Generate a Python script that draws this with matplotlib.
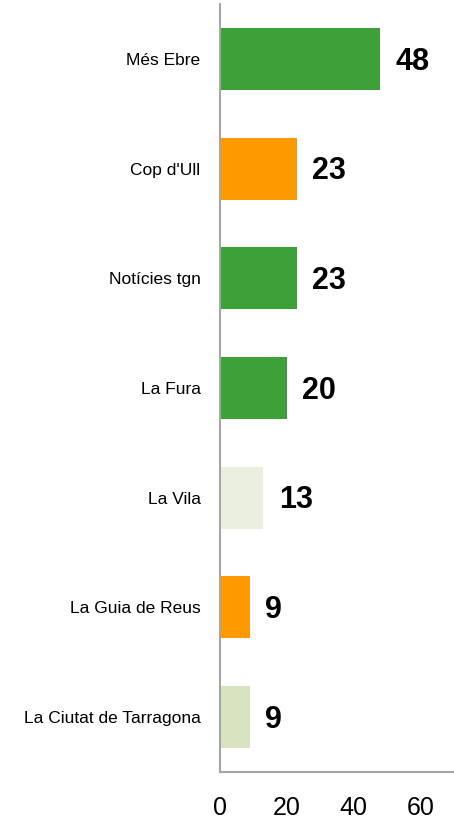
import matplotlib
matplotlib.use("Agg")
import matplotlib.pyplot as plt

# data, top to bottom
labels = ["Més Ebre", "Cop d'Ull", "Notícies tgn", "La Fura", "La Vila",
          "La Guia de Reus", "La Ciutat de Tarragona"]
values = [48, 23, 23, 20, 13, 9, 9]
colors = ["#3da038", "#ff9900", "#3da038", "#3da038", "#ebefe0",
          "#ff9900", "#d8e4bf"]
xticks = [0, 20, 40, 60]

plt.rcParams['font.family'] = ['Liberation Sans', 'DejaVu Sans']

fig = plt.figure(figsize=(4.54, 8.19), dpi=100)
ax = fig.add_axes([220 / 454, 47 / 819, 1 - 220 / 454, 768 / 819])

pos = list(range(len(labels)))
ax.barh(pos, values, height=0.565, color=colors, edgecolor="none")
for p, v in zip(pos, values):
    ax.annotate(str(v), (v, p), xytext=(11, -2), textcoords="offset points",
                va="center", ha="left", fontsize=22, fontweight="bold")

ax.set_ylim(6.5, -0.5)
ax.set_xlim(0, 70)
ax.set_yticks(pos)
ax.set_yticklabels(labels, fontsize=12.5)
ax.set_xticks(xticks)
ax.set_xticklabels([str(t) for t in xticks], fontsize=18)
ax.tick_params(axis="y", length=0, pad=14)
ax.tick_params(axis="x", length=0, pad=17)

for s in ["top", "right"]:
    ax.spines[s].set_visible(False)
for s in ["left", "bottom"]:
    ax.spines[s].set_color("#a6a6a6")
    ax.spines[s].set_linewidth(1.5)

fig.savefig("out.png", dpi=100)
